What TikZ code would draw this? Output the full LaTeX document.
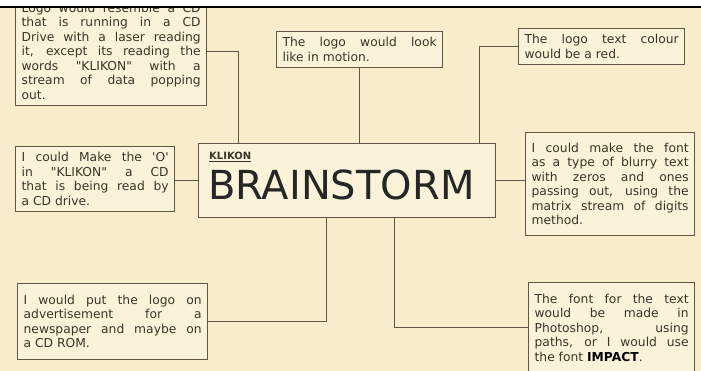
\documentclass[tikz,border=0pt]{standalone}
\usepackage{fontspec}
\setmainfont{DejaVu Sans}
\usetikzlibrary{calc,positioning}
\definecolor{paper}{HTML}{F7EDCA}
\definecolor{boxfill}{HTML}{FAF3DA}
\definecolor{inkline}{HTML}{5E5743}
\definecolor{inktext}{HTML}{38342A}

\begin{document}
\begin{tikzpicture}[x=1pt,y=-1pt,
    idea/.style={draw=inkline,line width=1.3pt,fill=boxfill,text=inktext,
      inner xsep=6pt,inner ysep=6pt,align=justify,anchor=north west,
      font=\fontsize{12.3}{14.5}\selectfont},
    link/.style={draw=inkline,line width=0.9pt}]
    \useasboundingbox (0,0) rectangle (701,371);
    \clip (0,0) rectangle (701,371);
    \fill[paper] (0,0) rectangle (701,371);
    % ideas round the centre box
    \node[idea,text width=179pt,anchor=south west] (cdlaser) at (15,106)
      {Logo would resemble a CD\linebreak that is running in a CD\linebreak Drive with a laser reading\linebreak it, except its reading the\linebreak words \textquotedbl KLIKON\textquotedbl{} with a\linebreak stream of data popping\linebreak out.};
    \node[idea,text width=154pt] (motion) at (276,31)
      {The logo would look\linebreak like in motion.};
    \node[idea,text width=154pt] (colour) at (518,28)
      {The logo text colour\linebreak would be a red.};
    \node[idea,text width=147pt] (cdread) at (15,146)
      {I could Make the \textquotesingle O\textquotesingle\linebreak in \textquotedbl KLIKON\textquotedbl{} a CD\linebreak that is being read by\linebreak a CD drive.};
    \node[idea,text width=157pt,minimum height=103pt] (blurry) at (525,132)
      {I could make the font\linebreak as a type of blurry text\linebreak with zeros and ones\linebreak passing out, using the\linebreak matrix stream of digits\linebreak method.};
    \node[idea,text width=178pt,minimum height=76pt] (advert) at (17,283)
      {I would put the logo on\linebreak advertisement for a\linebreak newspaper and maybe on\linebreak a CD ROM.};
    \node[idea,text width=154pt,minimum height=90pt] (photoshop) at (528,282)
      {The font for the text\linebreak would be made in\linebreak Photoshop, using\linebreak paths, or I would use\linebreak the font \textbf{\color{black}IMPACT}.};
    % centre box
    \node[draw=inkline,line width=1.4pt,fill=boxfill,minimum width=297pt,minimum height=74pt,anchor=north west] (brain) at (198,143) {};
    \node[anchor=base west,inner sep=0pt,text=inktext,font=\fontsize{10}{10}\selectfont\bfseries] (klikon) at (209,160) {\underline{KLIKON}};
    \node[anchor=base west,inner sep=0pt,text=black!85,font=\fontsize{40}{40}\selectfont] (title) at (208,200) {BRAINSTORM};
    % connectors
    \draw[link] (cdlaser.east) -| ($(brain.north west)+(40,0)$);
    \draw[link] (motion.south) -- (motion.south |- brain.north);
    \draw[link] (colour.west) -| ($(brain.north east)+(-17,0)$);
    \draw[link] (brain.west) -- (brain.west -| cdread.east);
    \draw[link] (brain.east) -- (brain.east -| blurry.west);
    \draw[link] ($(brain.south west)+(128,0)$) |- (advert.east);
    \draw[link] ($(brain.south west)+(196,0)$) |- (photoshop.west);
    % white strip at the top
    \fill[white] (0,0) rectangle (701,6);
    \draw[black,line width=2pt] (0,7) -- (701,7);
\end{tikzpicture}
\end{document}
